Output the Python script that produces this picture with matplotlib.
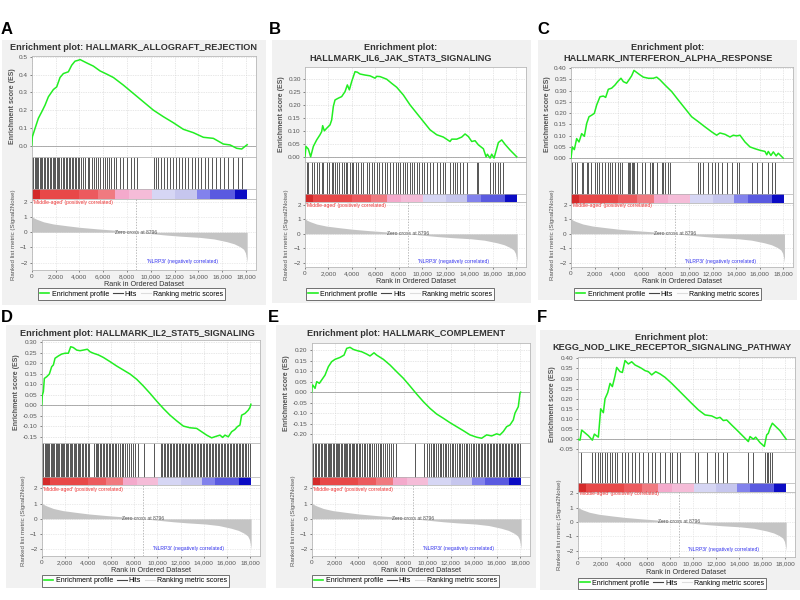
import matplotlib
matplotlib.use("Agg")
import matplotlib.pyplot as plt
from matplotlib.lines import Line2D
from matplotlib.patches import Rectangle
from matplotlib.ticker import FixedLocator, FuncFormatter

plt.rcParams['font.family'] = ['Liberation Sans', 'DejaVu Sans']

# ---------------- data ----------------
N_GENES = 18100
ZERO_CROSS = 8796
X_TICKS = [0, 2000, 4000, 6000, 8000, 10000, 12000, 14000, 16000, 18000]
RANK_YTICKS = [-2, -1, 0, 1, 2]

metric_rank = [0, 30, 150, 420, 1000, 1820, 3000, 4060, 5500, 6860, 8000, 8796,
               10000, 11340, 12500, 14140, 15300, 16380, 17000, 17500, 17800, 17950, 18050, 18100]
metric_value = [1.25, 1.05, 0.95, 0.85, 0.68, 0.54, 0.42, 0.32, 0.22, 0.14, 0.06, 0.0,
                -0.09, -0.19, -0.26, -0.34, -0.44, -0.62, -0.76, -0.95, -1.12, -1.35, -1.7, -2.0]

band_start = [0, 700, 4000, 5600, 7000, 8200, 10080, 12000, 13860, 15000, 17080]
band_end = [700, 4000, 5600, 7000, 8200, 10080, 12000, 13860, 15000, 17080, 18100]
band_color = ['#d42a2a', '#e84848', '#ec5a5e', '#f07a80', '#f4aacc', '#f5bcd8',
              '#d6d6f4', '#c6c6ee', '#8282ec', '#5a5ae0', '#0c0cc4']

titles = {
    'A': 'Enrichment plot: HALLMARK_ALLOGRAFT_REJECTION',
    'B': 'Enrichment plot:\nHALLMARK_IL6_JAK_STAT3_SIGNALING',
    'C': 'Enrichment plot:\nHALLMARK_INTERFERON_ALPHA_RESPONSE',
    'D': 'Enrichment plot: HALLMARK_IL2_STAT5_SIGNALING',
    'E': 'Enrichment plot: HALLMARK_COMPLEMENT',
    'F': 'Enrichment plot:\nKEGG_NOD_LIKE_RECEPTOR_SIGNALING_PATHWAY',
}

es_rank_A = [0, 56, 280, 560, 840, 1120, 1400, 1820, 2100, 2380, 2660, 3080, 3360, 3640, 3920, 4060,
             4620, 5180, 5740, 6300, 6860, 7700, 8540, 9380, 10220, 11060, 11900, 12740, 13580,
             14420, 15260, 16100, 16660, 17220, 17640, 18000, 18100]
es_val_A = [0.0, 0.05, 0.097, 0.154, 0.19, 0.228, 0.275, 0.316, 0.331, 0.384, 0.406, 0.416, 0.453,
            0.476, 0.481, 0.485, 0.466, 0.448, 0.421, 0.403, 0.384, 0.341, 0.294, 0.247, 0.2, 0.163,
            0.129, 0.092, 0.073, 0.047, 0.041, 0.009, 0.004, -0.015, -0.019, 0.0, 0.005]

es_rank_B = [0, 85, 284, 483, 711, 995, 1280, 1422, 1507, 1650, 1849, 2133, 2275, 2417, 2560, 2844,
             3128, 3413, 3612, 3783, 3982, 4266, 4465, 4693, 5119, 5546, 5972, 6115, 6399, 6968,
             7394, 7821, 8390, 8959, 9527, 10096, 10665, 11234, 11803, 12371, 12513, 12940, 13367,
             13651, 13936, 14220, 14504, 14789, 15215, 15443, 15556, 15784, 15926, 16125, 16495,
             16780, 17064, 17491, 18060]
es_val_B = [0.0, 0.04, 0.03, 0.0, 0.04, 0.065, 0.085, 0.097, 0.12, 0.10, 0.11, 0.123, 0.142, 0.194,
            0.219, 0.226, 0.232, 0.251, 0.277, 0.258, 0.29, 0.328, 0.326, 0.319, 0.315, 0.312, 0.303,
            0.31, 0.309, 0.299, 0.283, 0.268, 0.238, 0.2, 0.168, 0.136, 0.104, 0.085, 0.076, 0.059,
            0.068, 0.068, 0.076, 0.088, 0.078, 0.059, 0.062, 0.046, 0.031, 0.0, 0.01, -0.005, 0.01,
            -0.005, 0.055, 0.065, 0.048, 0.026, 0.0]

es_rank_C = [0, 113, 283, 480, 678, 904, 1130, 1328, 1526, 1752, 1978, 2176, 2459, 2741, 2939, 3165,
             3448, 3730, 3956, 4239, 4437, 4719, 4917, 5143, 5341, 5567, 5850, 6132, 6556, 6980,
             7263, 7545, 7969, 8535, 9100, 9665, 10230, 10796, 11361, 11926, 12350, 12632, 13056,
             13480, 13763, 14045, 14328, 14752, 15176, 15600, 16024, 16447, 16600, 16730, 16950,
             17154, 17400, 17577, 18000]
es_val_C = [0.0, 0.05, 0.038, 0.087, 0.072, 0.109, 0.097, 0.154, 0.184, 0.191, 0.199, 0.236, 0.273,
            0.276, 0.27, 0.306, 0.311, 0.325, 0.34, 0.355, 0.34, 0.333, 0.348, 0.366, 0.39, 0.381,
            0.37, 0.36, 0.355, 0.355, 0.36, 0.348, 0.325, 0.296, 0.258, 0.221, 0.184, 0.162, 0.139,
            0.117, 0.102, 0.112, 0.106, 0.094, 0.102, 0.099, 0.102, 0.072, 0.05, 0.042, 0.035, 0.03,
            0.015, 0.03, 0.012, 0.028, 0.01, 0.022, 0.0]

es_rank_D = [0, 58, 144, 230, 432, 662, 864, 1008, 1152, 1440, 1728, 2016, 2304, 2506, 2736, 3024,
             3312, 3600, 3946, 4176, 4464, 4896, 5328, 5904, 6480, 7056, 7632, 8208, 8784, 9360,
             9936, 10512, 11088, 11664, 12240, 12816, 13392, 13824, 14256, 14688, 15120, 15408,
             15638, 15840, 16128, 16416, 16704, 16906, 17136, 17280, 17568, 17856, 18000, 18080]
es_val_D = [0.0, 0.049, 0.065, 0.128, 0.136, 0.149, 0.184, 0.192, 0.224, 0.235, 0.244, 0.248, 0.248,
            0.279, 0.275, 0.263, 0.26, 0.263, 0.267, 0.255, 0.248, 0.24, 0.228, 0.208, 0.187, 0.168,
            0.149, 0.124, 0.092, 0.057, 0.02, -0.015, -0.047, -0.074, -0.099, -0.107, -0.11, -0.126,
            -0.142, -0.155, -0.147, -0.142, -0.153, -0.142, -0.15, -0.126, -0.115, -0.102, -0.094,
            -0.047, -0.039, -0.023, -0.01, 0.005]

es_rank_E = [0, 30, 86, 288, 432, 662, 864, 1152, 1440, 1728, 2016, 2448, 2794, 3024, 3312, 3600,
             3946, 4320, 4752, 5040, 5386, 5616, 6192, 6768, 7344, 7920, 8496, 9072, 9648, 10224,
             10800, 11376, 11952, 12528, 13104, 13680, 14256, 14688, 15120, 15552, 15984, 16272,
             16560, 16848, 17136, 17424, 17568, 17856, 18000, 18058]
es_val_E = [0.0, 0.023, 0.034, 0.018, 0.05, 0.042, 0.058, 0.081, 0.121, 0.145, 0.156, 0.165, 0.176,
            0.208, 0.213, 0.203, 0.197, 0.192, 0.181, 0.172, 0.187, 0.176, 0.156, 0.129, 0.097, 0.066,
            0.029, -0.009, -0.045, -0.077, -0.104, -0.124, -0.145, -0.164, -0.183, -0.203, -0.214,
            -0.219, -0.203, -0.208, -0.198, -0.203, -0.187, -0.164, -0.156, -0.132, -0.1, -0.069,
            -0.006, 0.0]

es_rank_F = [0, 203, 347, 926, 1273, 1447, 1794, 1997, 2228, 2373, 2605, 2807, 3010, 3241, 3386,
             3676, 3878, 4109, 4399, 4688, 4978, 5267, 5556, 5846, 6135, 6425, 6772, 7148, 7582,
             8161, 8740, 9319, 9897, 10476, 11055, 11634, 12068, 12357, 12647, 12936, 13370, 13804,
             14383, 14817, 14962, 15251, 15454, 15830, 16206, 16409, 16554, 16698, 16901, 17567, 18100]
es_val_F = [0.0, -0.005, 0.045, 0.017, -0.005, 0.025, 0.01, 0.15, 0.131, 0.2, 0.23, 0.276, 0.26,
            0.313, 0.355, 0.334, 0.33, 0.389, 0.372, 0.383, 0.367, 0.359, 0.35, 0.339, 0.334, 0.318,
            0.334, 0.323, 0.306, 0.276, 0.243, 0.21, 0.177, 0.145, 0.12, 0.115, 0.103, 0.108, 0.092,
            0.095, 0.07, 0.046, 0.013, -0.012, 0.013, 0.0, 0.01, -0.017, -0.036, 0.021, 0.029, 0.054,
            0.079, 0.042, 0.0]

hits_A = [30, 110, 260, 330, 480, 560, 700, 820, 900, 1050, 1150, 1300, 1380, 1520, 1600, 1750,
          1850, 1980, 2100, 2250, 2330, 2450, 2600, 2700, 2850, 2950, 3100, 3200, 3350, 3450, 3600,
          3700, 3850, 3950, 4150, 4300, 4500, 4700, 4850, 5050, 5200, 5400, 5600, 5750, 5950, 6150,
          6350, 6500, 6700, 6900, 7100, 7400, 7700, 8000, 8300, 8600, 8850, 10250, 10450, 10650,
          10900, 11150, 11400, 11650, 11900, 12150, 12400, 12650, 12900, 13150, 13450, 13700, 13950,
          14250, 14550, 14850, 15150, 15450, 15800, 16150, 16500, 16900, 17300, 17700]
hits_B = [142, 284, 569, 768, 995, 1223, 1422, 1564, 1849, 2076, 2275, 2417, 2560, 2702, 2929, 3128,
          3327, 3498, 3612, 3839, 3982, 4124, 4351, 4550, 4749, 4977, 5261, 5489, 5688, 5887, 6115,
          6342, 6541, 6826, 7025, 7252, 7537, 7764, 7963, 8105, 8333, 8532, 8731, 8959, 9101, 9300,
          9527, 9755, 9954, 10153, 10381, 10665, 10949, 11234, 11518, 11803, 11945, 12371, 12599,
          12798, 12940, 13225, 13509, 13794, 14646, 14789, 15784, 16011, 16211, 16495, 16637, 16922]
hits_C = [113, 339, 480, 904, 1046, 1328, 1470, 1696, 2035, 2176, 2374, 2600, 2883, 3109, 3306, 3504,
          3730, 3956, 4154, 4352, 4804, 4917, 5002, 5143, 5285, 5369, 5567, 5991, 6274, 6698, 6839,
          6980, 7263, 7687, 7828, 7969, 8252, 8393, 10795, 10937, 11219, 11643, 11926, 12208, 12491,
          12774, 13198, 13621, 14045, 14243, 15317, 15741, 16165, 16730, 17012, 17295]
hits_D = [20, 130, 250, 330, 460, 560, 650, 780, 880, 1000, 1090, 1200, 1330, 1420, 1520, 1650,
          1750, 1860, 1960, 2080, 2200, 2290, 2420, 2520, 2650, 2750, 2880, 2990, 3100, 3230, 3350,
          3470, 3600, 3720, 3850, 3980, 4100, 4520, 4650, 4780, 4900, 5030, 5150, 5280, 5400, 5530,
          5660, 5790, 5920, 6050, 6180, 6320, 6460, 6600, 6750, 6900, 7050, 7200, 7350, 7520, 7700,
          7900, 8100, 8350, 8800, 9700, 10300, 10420, 10550, 10680, 10800, 10930, 11060, 11190,
          11320, 11450, 11580, 11710, 11840, 11970, 12100, 12230, 12360, 12500, 12630, 12760, 12890,
          13020, 13150, 13280, 13410, 13540, 13670, 13800, 13930, 14060, 14190, 14320, 14450, 14580,
          14710, 14840, 14970, 15100, 15230, 15360, 15490, 15620, 15750, 15880, 16010, 16140, 16270,
          16400, 16530, 16660, 16790, 16920, 17050, 17180, 17310, 17440, 17570, 17700, 17830, 17960]
hits_E = [30, 150, 260, 400, 520, 640, 780, 900, 1020, 1140, 1250, 1370, 1480, 1600, 1710, 1830,
          1940, 2060, 2170, 2290, 2400, 2520, 2630, 2750, 2860, 2980, 3090, 3210, 3320, 3440, 3560,
          3690, 3820, 3950, 4080, 4210, 4350, 4490, 4630, 4780, 4930, 5080, 5230, 5380, 5540, 5700,
          5860, 6020, 6180, 6350, 6520, 6700, 6880, 7060, 7250, 8900, 9700, 10000, 10150, 10300,
          10450, 10600, 10750, 10900, 11050, 11200, 11350, 11500, 11650, 11800, 11950, 12100, 12250,
          12400, 12550, 12700, 12850, 13000, 13150, 13300, 13450, 13600, 13750, 13900, 14050, 14200,
          14330, 14460, 14590, 14720, 14850, 14980, 15110, 15240, 15370, 15500, 15630, 15760, 15890,
          16020, 16150, 16280, 16410, 16540, 16670, 16800, 16930, 17060, 17190, 17320, 17450, 17580,
          17710, 17840, 17970]
hits_F = [289, 1215, 1505, 1795, 1939, 2084, 2373, 2518, 2807, 3010, 3241, 3386, 3878, 4109, 4399,
          4688, 4978, 5325, 5701, 6135, 6425, 6714, 7148, 7582, 8016, 8161, 8595, 8885, 10187, 10476,
          11200, 11923, 12212, 12646, 12936, 14817, 15251, 16264, 16409, 16554, 16698, 16843]

# ---------------- layout ----------------
W, H = 800, 600
XMAX = 18850
fig = plt.figure(figsize=(8, 6), dpi=100)
fig.patch.set_facecolor('white')

GREEN = '#22ee22'
TXT = '#555555'


def fax(x0, y0, x1, y1):
    return fig.add_axes([x0 / W, 1 - y1 / H, (x1 - x0) / W, (y1 - y0) / H])


def fig_rect(x0, y0, x1, y1, color):
    fig.add_artist(Rectangle((x0 / W, 1 - y1 / H), (x1 - x0) / W, (y1 - y0) / H,
                             transform=fig.transFigure, facecolor=color,
                             edgecolor='none', zorder=0))


def style_spines(ax, color='#b8b8b8'):
    for s in ax.spines.values():
        s.set_color(color)
        s.set_linewidth(0.6)


def draw_panel(letter, es_r, es_v, hits, g):
    fig_rect(*g['bg'], '#f1f1f1')
    fig.text(g['label'][0] / W, 1 - g['label'][1] / H, letter, fontsize=12,
             fontweight='bold', ha='left', va='center', color='black')
    fig.text(g['title'][0] / W, 1 - g['title'][1] / H, titles[letter], fontsize=6.6,
             fontweight='bold', ha='center', va='center', color='#333333', linespacing=1.05)
    L, R = g['left'], g['right']
    # ES axes
    ax1 = fax(L, g['es_top'], R, g['hits_top'])
    ax1.set_xlim(0, XMAX)
    ax1.set_ylim(*g['es_ylim'])
    ax1.plot(es_r, es_v, color=GREEN, lw=1.1, zorder=3)
    ax1.axhline(0, color='#a0a0a0', lw=0.6, zorder=2)
    ax1.xaxis.set_major_locator(FixedLocator(X_TICKS))
    ax1.set_xticklabels([])
    ax1.yaxis.set_major_locator(FixedLocator(g['es_ticks']))
    ax1.yaxis.set_major_formatter(FuncFormatter(lambda v, p, f=g['es_fmt']: f % v))
    ax1.tick_params(axis='x', length=0)
    ax1.tick_params(axis='y', labelsize=4.6, colors=TXT, length=1.5, width=0.5, pad=1.5)
    ax1.grid(True, ls=(0, (1, 1.5)), color='#d0d0d0', lw=0.5)
    ax1.set_ylabel('Enrichment score (ES)', fontsize=5, fontweight='bold', color=TXT, labelpad=2)
    style_spines(ax1)
    # hits axes
    ax2 = fax(L, g['hits_top'], R, g['rank_top'])
    ax2.set_xlim(0, XMAX)
    ax2.set_ylim(0, 1)
    cb = g['cb_frac']
    ax2.vlines(hits, cb, 1, color='#111111', lw=0.5)
    for s, e, c in zip(band_start, band_end, band_color):
        ax2.barh(cb / 2, e - s, left=s, height=cb, color=c, lw=0)
    ax2.axhline(cb, color='#b0b0b0', lw=0.5)
    ax2.set_xticks([])
    ax2.set_yticks([])
    style_spines(ax2)
    # ranked list axes
    ax3 = fax(L, g['rank_top'], R, g['rank_bot'])
    ax3.set_xlim(0, XMAX)
    ax3.set_ylim(*g['rank_ylim'])
    ax3.fill_between(metric_rank, metric_value, 0, color='#c4c4c4', lw=0, zorder=2)
    ax3.axvline(ZERO_CROSS, color='#a0a0a0', lw=0.5, ls=(0, (2, 2)), zorder=3)
    ax3.text(ZERO_CROSS, 0, 'Zero cross at %d' % ZERO_CROSS, fontsize=3.6, color=TXT,
             ha='center', va='center', zorder=4)
    ax3.text(100, 1.95, "'Middle-aged' (positively correlated)", fontsize=3.6, color='#ee3333',
             ha='left', va='center', zorder=4)
    ax3.text(12700, -1.95, "'NLRP3i' (negatively correlated)", fontsize=3.6, color='#3333ee',
             ha='center', va='center', zorder=4)
    ax3.xaxis.set_major_locator(FixedLocator(X_TICKS))
    ax3.xaxis.set_major_formatter(FuncFormatter(lambda v, p: '{:,}'.format(int(v))))
    ax3.yaxis.set_major_locator(FixedLocator(RANK_YTICKS))
    ax3.tick_params(labelsize=4.6, colors=TXT, length=1.5, width=0.5, pad=1.5)
    ax3.grid(True, ls=(0, (1, 1.5)), color='#d8d8d8', lw=0.5, zorder=0)
    ax3.set_xlabel('Rank in Ordered Dataset', fontsize=5.2, color='#333333', labelpad=1.5)
    ax3.set_ylabel('Ranked list metric (Signal2Noise)', fontsize=4.4, color=TXT, labelpad=3)
    style_spines(ax3)
    # legend
    handles = [Line2D([], [], color=GREEN, lw=1.2), Line2D([], [], color='#444444', lw=0.8),
               Line2D([], [], color='#dddddd', lw=0.8)]
    lg = fig.legend(handles, ['Enrichment profile', 'Hits', 'Ranking metric scores'],
                    loc='center', bbox_to_anchor=(g['legend'][0] / W, 1 - g['legend'][1] / H),
                    ncol=3, fontsize=5.0, frameon=True, fancybox=False, edgecolor='#333333',
                    handlelength=1.4, handletextpad=0.3, columnspacing=0.6, borderpad=0.3,
                    borderaxespad=0)
    lg.get_frame().set_linewidth(0.6)


panels = {
    'A': dict(bg=(2, 40, 266, 305), label=(0.5, 29), title=(134, 47), left=31.7, right=256.1,
              es_top=56, hits_top=157, rank_top=199, rank_bot=270, es_ylim=(-0.064, 0.505),
              es_ticks=[0.0, 0.1, 0.2, 0.3, 0.4, 0.5], es_fmt='%.1f', rank_ylim=(-2.48, 2.18),
              cb_frac=0.24, legend=(131.5, 294)),
    'B': dict(bg=(272, 40, 531, 303), label=(269, 29), title=(401, 52.5), left=305, right=526,
              es_top=67, hits_top=162, rank_top=202.3, rank_bot=267, es_ylim=(-0.02, 0.346),
              es_ticks=[0.0, 0.05, 0.1, 0.15, 0.2, 0.25, 0.3], es_fmt='%.2f', rank_ylim=(-2.3, 2.19),
              cb_frac=0.2, legend=(400, 294)),
    'C': dict(bg=(538, 40, 797, 300), label=(537, 29), title=(668, 52.5), left=571, right=793.3,
              es_top=67, hits_top=162, rank_top=202.5, rank_bot=267, es_ylim=(-0.017, 0.405),
              es_ticks=[0.0, 0.05, 0.1, 0.15, 0.2, 0.25, 0.3, 0.35, 0.4], es_fmt='%.2f',
              rank_ylim=(-2.3, 2.17), cb_frac=0.2, legend=(667.5, 294)),
    'D': dict(bg=(6, 325, 266, 588), label=(0.5, 318), title=(137, 333), left=41.7, right=259.8,
              es_top=340, hits_top=443.3, rank_top=485, rank_bot=556, es_ylim=(-0.181, 0.311),
              es_ticks=[-0.15, -0.1, -0.05, 0.0, 0.05, 0.1, 0.15, 0.2, 0.25, 0.3], es_fmt='%.2f',
              rank_ylim=(-2.44, 2.22), cb_frac=0.19, legend=(135.5, 581)),
    'E': dict(bg=(276, 325, 536, 588), label=(268, 318), title=(406, 333), left=311.7, right=529.8,
              es_top=342.7, hits_top=443.3, rank_top=485, rank_bot=556, es_ylim=(-0.243, 0.235),
              es_ticks=[-0.2, -0.15, -0.1, -0.05, 0.0, 0.05, 0.1, 0.15, 0.2], es_fmt='%.2f',
              rank_ylim=(-2.44, 2.22), cb_frac=0.19, legend=(405.5, 581)),
    'F': dict(bg=(540, 330, 800, 590), label=(537, 318), title=(672, 342), left=577.7, right=794.8,
              es_top=356.7, hits_top=451.7, rank_top=491.7, rank_bot=557.3, es_ylim=(-0.062, 0.408),
              es_ticks=[-0.05, 0.0, 0.05, 0.1, 0.15, 0.2, 0.25, 0.3, 0.35, 0.4], es_fmt='%.2f',
              rank_ylim=(-2.46, 2.11), cb_frac=0.21, legend=(672, 583.3)),
}

series = {
    'A': (es_rank_A, es_val_A, hits_A),
    'B': (es_rank_B, es_val_B, hits_B),
    'C': (es_rank_C, es_val_C, hits_C),
    'D': (es_rank_D, es_val_D, hits_D),
    'E': (es_rank_E, es_val_E, hits_E),
    'F': (es_rank_F, es_val_F, hits_F),
}

for k in 'ABCDEF':
    r, v, h = series[k]
    draw_panel(k, r, v, h, panels[k])

fig.savefig('out.png', dpi=100, facecolor='white')
